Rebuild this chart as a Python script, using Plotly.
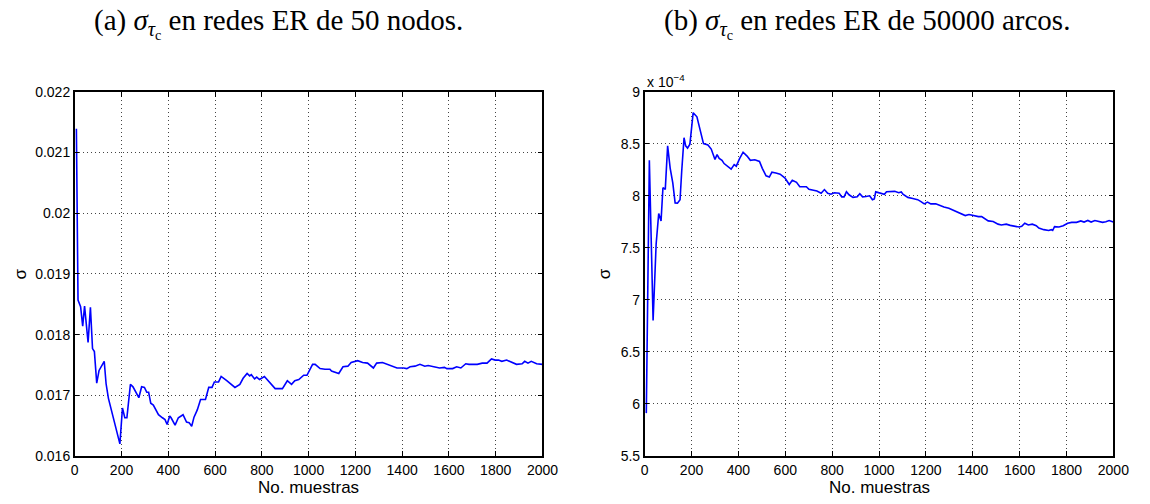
import plotly.graph_objects as go

# ---- data ----
samples_a = [7, 14, 25, 34, 42, 57, 67, 76, 84, 94, 104, 126, 134, 144, 193, 204, 214, 223, 238, 249,
             274, 286, 298, 308, 316, 325, 336, 358, 375, 386, 395, 406, 412, 429, 443, 463, 478, 489,
             500, 510, 524, 538, 559, 573, 587, 597, 615, 626, 650, 671, 685, 706, 720, 737, 748, 755,
             769, 778, 790, 811, 832, 857, 888, 909, 927, 941, 958, 979, 993, 1017, 1028, 1049, 1070,
             1091, 1098, 1129, 1147, 1168, 1182, 1210, 1231, 1252, 1277, 1291, 1316, 1336, 1364, 1378,
             1406, 1420, 1434, 1455, 1476, 1497, 1511, 1532, 1560, 1581, 1591, 1616, 1633, 1651, 1672,
             1686, 1721, 1742, 1763, 1782, 1798, 1812, 1826, 1847, 1868, 1889, 1913, 1924, 1938, 1952,
             1975, 2000]
sigma_a = [0.02139, 0.01857, 0.01846, 0.01814, 0.01847, 0.01787, 0.01845, 0.01777, 0.01772, 0.01720,
           0.01741, 0.01756, 0.01719, 0.01695, 0.01620, 0.01679, 0.01663, 0.01663, 0.01718, 0.01714,
           0.01696, 0.01714, 0.01713, 0.01705, 0.01705, 0.01687, 0.01684, 0.01668, 0.01663, 0.01660,
           0.01652, 0.01666, 0.01663, 0.01651, 0.01663, 0.01668, 0.01656, 0.01655, 0.01649, 0.01664,
           0.01676, 0.01693, 0.01693, 0.01713, 0.01713, 0.01722, 0.01722, 0.01731, 0.01724, 0.01718,
           0.01713, 0.01718, 0.01728, 0.01736, 0.01732, 0.01734, 0.01727, 0.01730, 0.01726, 0.01731,
           0.01721, 0.01711, 0.01711, 0.01724, 0.01718, 0.01724, 0.01726, 0.01733, 0.01733, 0.01751,
           0.01751, 0.01744, 0.01743, 0.01743, 0.01740, 0.01736, 0.01747, 0.01748, 0.01754, 0.01757,
           0.01754, 0.01753, 0.01745, 0.01753, 0.01754, 0.01751, 0.01746, 0.01745, 0.01745, 0.01744,
           0.01747, 0.01748, 0.01751, 0.01748, 0.01749, 0.01747, 0.01745, 0.01746, 0.01744, 0.01744,
           0.01747, 0.01745, 0.01752, 0.01751, 0.01751, 0.01753, 0.01753, 0.01760, 0.01758, 0.01758,
           0.01756, 0.01758, 0.01754, 0.01751, 0.01752, 0.01756, 0.01753, 0.01756, 0.01752, 0.01751]

samples_b = [7, 20, 36, 49, 60, 70, 78, 88, 98, 109, 120, 130, 140, 151, 158, 168, 175, 183, 193, 200,
             207, 223, 238, 251, 270, 284, 300, 309, 318, 330, 339, 353, 369, 382, 391, 405, 420, 437,
             451, 470, 490, 502, 518, 532, 543, 560, 578, 599, 617, 630, 648, 662, 690, 701, 718, 735,
             753, 767, 781, 795, 809, 830, 841, 851, 861, 872, 889, 907, 918, 930, 944, 960, 972, 980,
             986, 1004, 1023, 1032, 1053, 1067, 1084, 1095, 1102, 1123, 1144, 1165, 1179, 1193, 1207,
             1221, 1242, 1256, 1277, 1298, 1316, 1333, 1351, 1368, 1384, 1403, 1424, 1438, 1452, 1466,
             1487, 1508, 1522, 1543, 1560, 1578, 1598, 1609, 1622, 1637, 1654, 1671, 1682, 1703, 1724,
             1735, 1741, 1749, 1768, 1786, 1805, 1822, 1843, 1861, 1875, 1891, 1905, 1921, 1940, 1954,
             1968, 1982, 2000]
# values in units of 1e-4
sigma_b_e4 = [5.912, 8.341, 6.803, 7.537, 7.830, 7.759, 8.078, 8.062, 8.480, 8.264, 8.124, 7.932, 7.930,
              7.963, 8.233, 8.558, 8.480, 8.459, 8.496, 8.651, 8.799, 8.759, 8.635, 8.502, 8.489, 8.449,
              8.350, 8.396, 8.360, 8.341, 8.310, 8.285, 8.257, 8.300, 8.285, 8.357, 8.419, 8.382, 8.341,
              8.347, 8.331, 8.264, 8.192, 8.180, 8.227, 8.220, 8.208, 8.171, 8.109, 8.149, 8.130, 8.087,
              8.087, 8.062, 8.055, 8.046, 8.025, 8.060, 8.025, 8.015, 8.030, 8.025, 7.990, 7.990, 8.040,
              8.010, 7.985, 7.990, 8.020, 7.990, 7.994, 8.000, 7.963, 7.970, 8.038, 8.030, 8.015, 8.040,
              8.040, 8.043, 8.030, 8.038, 8.015, 7.985, 7.975, 7.963, 7.945, 7.923, 7.940, 7.923, 7.923,
              7.908, 7.892, 7.880, 7.862, 7.846, 7.821, 7.810, 7.820, 7.810, 7.800, 7.800, 7.783, 7.759,
              7.753, 7.728, 7.720, 7.728, 7.716, 7.707, 7.700, 7.707, 7.737, 7.720, 7.728, 7.713, 7.690,
              7.675, 7.667, 7.675, 7.667, 7.704, 7.700, 7.713, 7.737, 7.745, 7.745, 7.759, 7.748, 7.763,
              7.748, 7.763, 7.753, 7.745, 7.750, 7.763, 7.748]
EXP_B = -4

x_ticks = [0, 200, 400, 600, 800, 1000, 1200, 1400, 1600, 1800, 2000]
y_ticks_a = [0.016, 0.017, 0.018, 0.019, 0.020, 0.021, 0.022]
y_ticklabels_a = ["0.016", "0.017", "0.018", "0.019", "0.02", "0.021", "0.022"]
y_ticks_b_e4 = [5.5, 6, 6.5, 7, 7.5, 8, 8.5, 9]
y_ticklabels_b = ["5.5", "6", "6.5", "7", "7.5", "8", "8.5", "9"]

title_a = "(a) <i>σ</i><sub><i>τ</i><sub>c</sub></sub> en redes ER de 50 nodos."
title_b = "(b) <i>σ</i><sub><i>τ</i><sub>c</sub></sub> en redes ER de 50000 arcos."
xlabel = "No. muestras"
ylabel = "σ"

# ---- figure ----
W, H = 1150, 504
BLUE = "#0000FF"
SANS = "Liberation Sans"
SERIF = "Liberation Serif"

fig = go.Figure()
fig.add_trace(go.Scatter(x=samples_a, y=sigma_a, mode="lines",
                         line=dict(color=BLUE, width=1.6), xaxis="x", yaxis="y", showlegend=False))
scale_b = 10 ** EXP_B
fig.add_trace(go.Scatter(x=samples_b, y=[v * scale_b for v in sigma_b_e4], mode="lines",
                         line=dict(color=BLUE, width=1.6), xaxis="x2", yaxis="y2", showlegend=False))

y_bot = 1 - 462.7 / H
y_top = 1 - 86.5 / H
dom_a = [72 / W, 548 / W]
dom_b = [652 / W, 1129 / W]

common_axis = dict(
    showline=True, linecolor="black", linewidth=1.5, mirror="ticks",
    ticks="inside", ticklen=5, tickwidth=1, tickcolor="black",
    showgrid=True, gridcolor="#444444", gridwidth=1, griddash="1px,3px",
    zeroline=False, tickfont=dict(family=SANS, size=14, color="black"),
)

fig.update_layout(
    width=W, height=H, autosize=False,
    margin=dict(l=0, r=0, t=0, b=0),
    paper_bgcolor="white", plot_bgcolor="white",
    xaxis=dict(domain=dom_a, range=[0, 2000], tickvals=x_ticks, anchor="y", **common_axis),
    yaxis=dict(domain=[y_bot, y_top], range=[0.016, 0.022], tickvals=y_ticks_a,
               ticktext=y_ticklabels_a, anchor="x", **common_axis),
    xaxis2=dict(domain=dom_b, range=[0, 2000], tickvals=x_ticks, anchor="y2", **common_axis),
    yaxis2=dict(domain=[y_bot, y_top], range=[5.5 * scale_b, 9 * scale_b],
                tickvals=[v * scale_b for v in y_ticks_b_e4], ticktext=y_ticklabels_b,
                anchor="x2", **common_axis),
)

ann = []
# subfigure captions
ann.append(dict(text=title_a, x=90 / W, y=1 - 16 / H, xref="paper", yref="paper",
                xanchor="left", yanchor="middle", showarrow=False,
                font=dict(family=SERIF, size=29, color="black")))
ann.append(dict(text=title_b, x=670 / W, y=1 - 16 / H, xref="paper", yref="paper",
                xanchor="left", yanchor="middle", showarrow=False,
                font=dict(family=SERIF, size=29, color="black")))
# axis labels
for cx in [(72 + 548) / 2, (652 + 1129) / 2]:
    ann.append(dict(text=xlabel, x=cx / W, y=1 - 495 / H, xref="paper", yref="paper",
                    xanchor="center", yanchor="middle", showarrow=False,
                    font=dict(family=SANS, size=17, color="black")))
for lx in [17, 612]:
    ann.append(dict(text=ylabel, x=lx / W, y=1 - 274.6 / H, xref="paper", yref="paper",
                    xanchor="center", yanchor="middle", showarrow=False, textangle=-90,
                    font=dict(family=SANS, size=17, color="black")))
# exponent label
ann.append(dict(text="x 10<sup>−4</sup>", x=652 / W, y=1 - 75 / H, xref="paper", yref="paper",
                xanchor="left", yanchor="middle", showarrow=False,
                font=dict(family=SANS, size=14, color="black")))
fig.update_layout(annotations=ann)

fig.write_html("out.html")
